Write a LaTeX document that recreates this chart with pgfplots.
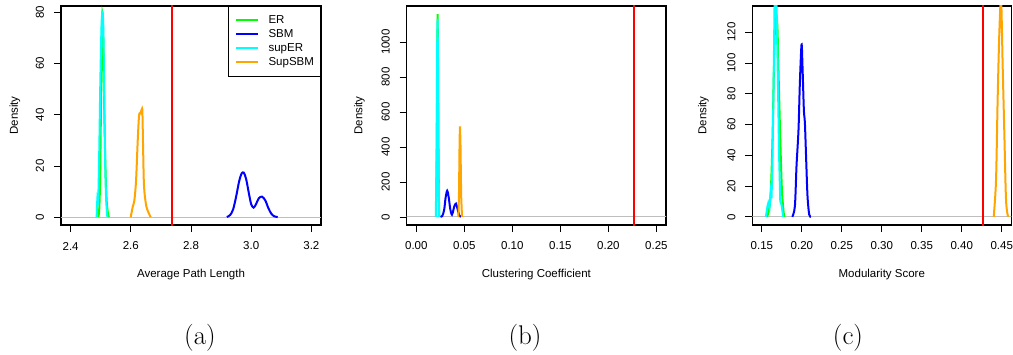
\documentclass[border=0pt]{standalone}
\usepackage{fontspec}
\newfontfamily\arial{Liberation Sans}
\usepackage{pgfplots}
\pgfplotsset{compat=1.18}
\definecolor{rgreen}{RGB}{0,255,0}
\definecolor{rblue}{RGB}{0,0,255}
\definecolor{rcyan}{RGB}{0,255,255}
\definecolor{rorange}{RGB}{255,165,0}
\definecolor{rred}{RGB}{255,0,0}
\definecolor{rgray}{RGB}{190,190,190}
\newcommand{\rfont}{\arial\fontsize{11.5}{13}\selectfont}
\pgfplotsset{
  rstyle/.style={
    scale only axis, height=219pt,
    axis line style={line width=1.1pt},
    tick align=outside, tick pos=left, major tick length=7pt,
    tick style={black, line width=0.8pt},
    /pgf/number format/assume math mode=true,
    /pgf/number format/1000 sep={},
    tick label style={font=\rfont},
    label style={font=\rfont},
    xticklabel style={anchor=center, yshift=-14pt},
    yticklabel style={anchor=center, xshift=-14pt, rotate=90},
    xlabel style={at={(axis description cs:0.5,-0.2283)}, anchor=center},
    every axis plot/.append style={line width=2pt},
  }
}
\begin{document}
\begin{tikzpicture}
\path[use as bounding box] (0pt,0pt) rectangle (1013pt,354pt);
% ---------------- (a)
\begin{axis}[rstyle, at={(61pt,129pt)}, anchor=south west, width=260pt,
  xmin=2.368, xmax=3.232, ymin=-3.1, ymax=82.5,
  xtick={2.4,2.6,2.8,3.0,3.2}, xticklabels={2.4,2.6,2.8,3.0,3.2},
  ytick={0,20,40,60,80},
  xlabel={Average Path Length}, ylabel={Density},
  ylabel style={at={(axis description cs:-0.177,0.5)}, anchor=center},
  legend style={at={(1,1)}, anchor=north east, draw=black, line width=1.1pt,
    font=\rfont, inner xsep=6.5pt, inner ysep=7pt, row sep=0.5pt,
    nodes={inner ysep=1.5pt, inner xsep=0pt, text height=8.3pt, text depth=2.2pt},
    /tikz/every odd column/.append style={column sep=10pt}},
  legend cell align=left,
  legend image code/.code={\draw[#1, line width=2pt] (0pt,0pt) -- (22pt,0pt);},
]
\addplot[rgray, line width=1pt, forget plot] coordinates {(2.3,0) (3.3,0)};
\addplot[rgreen, smooth] coordinates {(2.492,0) (2.495,3) (2.498,15) (2.501,45) (2.504,74) (2.506,79.7) (2.509,66) (2.512,40) (2.516,18) (2.520,6) (2.524,1.5) (2.527,0)};
\addlegendentry{ER}
\addplot[rblue, smooth] coordinates {(2.919,0) (2.930,0.8) (2.940,3) (2.950,8) (2.960,14) (2.968,17) (2.975,17.4) (2.983,15) (2.992,9.5) (3.000,5) (3.008,3.7) (3.016,5) (3.025,7.3) (3.036,8.0) (3.047,6.5) (3.057,3.5) (3.067,1.3) (3.077,0.3) (3.088,0)};
\addlegendentry{SBM}
\addplot[rcyan, smooth] coordinates {(2.4865,0) (2.489,7.5) (2.4915,6) (2.495,25) (2.499,55) (2.503,76) (2.5065,80) (2.509,72) (2.512,45) (2.515,20) (2.518,7) (2.522,0)};
\addlegendentry{supER}
\addplot[rorange, smooth] coordinates {(2.5997,0) (2.6063,4) (2.612,6.7) (2.6175,14.5) (2.623,30) (2.6275,39.8) (2.632,40.5) (2.6363,42.1) (2.6385,41) (2.641,26) (2.644,11.9) (2.652,4) (2.666,0)};
\addlegendentry{SupSBM}
\addplot[rred, forget plot] coordinates {(2.736,-10) (2.736,100)};
\end{axis}
% ---------------- (b)
\begin{axis}[rstyle, at={(406.7pt,129pt)}, anchor=south west, width=259.3pt,
  xmin=-0.01, xmax=0.26, ymin=-46, ymax=1206,
  xtick={0,0.05,0.1,0.15,0.2,0.25}, xticklabels={0.00,0.05,0.10,0.15,0.20,0.25},
  ytick={0,200,400,600,800,1000},
  xlabel={Clustering Coefficient}, ylabel={Density},
  ylabel style={at={(axis description cs:-0.1828,0.5)}, anchor=center},
]
\addplot[rgray, line width=1pt] coordinates {(-0.1,0) (0.3,0)};
\addplot[rgreen] coordinates {(0.0205,0) (0.0212,300) (0.0218,900) (0.0222,1160) (0.0226,900) (0.0232,300) (0.0238,0)};
\addplot[rblue, smooth] coordinates {(0.0252,0) (0.027,5) (0.029,40) (0.0305,110) (0.0322,150) (0.0338,110) (0.0352,50) (0.0365,18) (0.0371,13) (0.038,25) (0.0395,60) (0.0413,76) (0.043,45) (0.0445,12) (0.0465,0)};
\addplot[rcyan] coordinates {(0.0203,0) (0.0211,350) (0.0217,950) (0.0221,1133) (0.0225,950) (0.0231,350) (0.0237,0)};
\addplot[rorange] coordinates {(0.0438,0) (0.0445,150) (0.0451,450) (0.0455,518) (0.0460,420) (0.0467,120) (0.0476,0)};
\addplot[rred] coordinates {(0.2264,-100) (0.2264,1500)};
\end{axis}
% ---------------- (c)
\begin{axis}[rstyle, at={(752.3pt,129pt)}, anchor=south west, width=259pt,
  xmin=0.138, xmax=0.462, ymin=-5.3, ymax=137,
  xtick={0.15,0.2,0.25,0.3,0.35,0.4,0.45}, xticklabels={0.15,0.20,0.25,0.30,0.35,0.40,0.45},
  ytick={0,20,40,60,80,100,120},
  xlabel={Modularity Score}, ylabel={Density},
  ylabel style={at={(axis description cs:-0.189,0.5)}, anchor=center},
]
\addplot[rgray, line width=1pt] coordinates {(0.1,0) (0.5,0)};
\addplot[rgreen, smooth] coordinates {(0.1565,0) (0.159,5) (0.161,15) (0.163,45) (0.165,95) (0.1665,125) (0.168,131.7) (0.1695,122) (0.171,90) (0.173,50) (0.175,18) (0.177,4) (0.178,0)};
\addplot[rblue, smooth] coordinates {(0.188,0) (0.1913,7) (0.1933,33) (0.1958,56.6) (0.1975,87) (0.1996,112) (0.2008,97.7) (0.2025,69.6) (0.2038,61) (0.2054,37) (0.2071,13) (0.2092,1.5) (0.2113,0)};
\addplot[rcyan] coordinates {(0.155,0) (0.157,7) (0.158,9) (0.1595,6) (0.161,16) (0.162,12) (0.163,30) (0.1645,80) (0.1658,137) (0.1670,150) (0.1683,137) (0.1700,90) (0.1715,40) (0.173,10) (0.1745,8) (0.1767,0)};
\addplot[rorange, smooth] coordinates {(0.440,0) (0.4429,24) (0.4449,76) (0.4470,119) (0.4492,142) (0.4512,98) (0.4533,54) (0.4554,11) (0.458,0)};
\addplot[rred] coordinates {(0.427,-20) (0.427,200)};
\end{axis}
% ---------------- captions
\node[font=\fontsize{27}{32}\selectfont, anchor=base] at (200pt,10pt) {(a)};
\node[font=\fontsize{27}{32}\selectfont, anchor=base] at (525pt,10pt) {(b)};
\node[font=\fontsize{27}{32}\selectfont, anchor=base] at (848pt,10pt) {(c)};
\end{tikzpicture}
\end{document}
